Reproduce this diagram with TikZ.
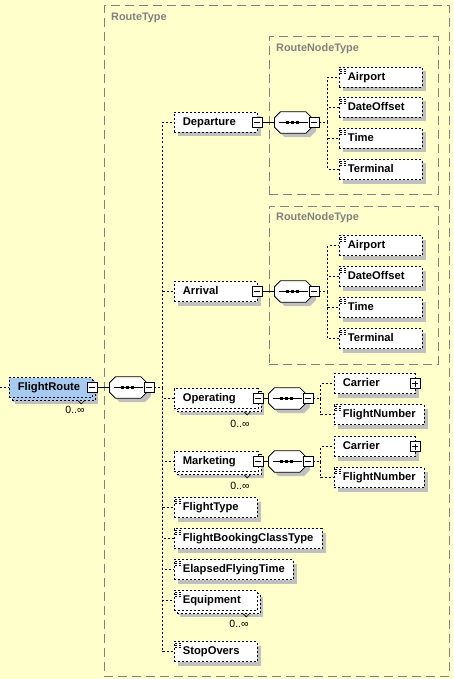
\documentclass[tikz,border=0pt]{standalone}
\usepackage{fontspec}
\setmainfont{Liberation Sans}
\usetikzlibrary{shadows}

\definecolor{bgyellow}{RGB}{255,255,204}
\definecolor{shadegrey}{RGB}{192,192,192}
\definecolor{titlegrey}{RGB}{128,128,128}
\definecolor{rootblue}{RGB}{166,202,240}

% octagon outline round a sequence node, shifted by (#2,#3)
\newcommand{\octpath}[3]{([shift={(6pt+#2,#3)}]#1.north west) -- ([shift={(-6pt+#2,#3)}]#1.north east)
    -- ([shift={(#2,-6pt+#3)}]#1.north east) -- ([shift={(#2,6pt+#3)}]#1.south east)
    -- ([shift={(-6pt+#2,#3)}]#1.south east) -- ([shift={(6pt+#2,#3)}]#1.south west)
    -- ([shift={(#2,6pt+#3)}]#1.south west) -- ([shift={(#2,-6pt+#3)}]#1.north west) -- cycle}
% sequence compositor: shadow, frame, line and three dots
\newcommand{\seqframe}[1]{%
    \fill[shadegrey] \octpath{#1}{4pt}{-4pt};
    \filldraw[fill=white, line width=0.8pt] \octpath{#1}{0pt}{0pt};
    \draw[line width=0.8pt] ([xshift=4pt]#1.west) -- ([xshift=-4pt]#1.east);
    \foreach \d in {-7.5pt,-2.5pt,2.5pt}
        \draw[line width=3pt] ([xshift=\d]#1.center) -- ++(3pt,0pt);}

\begin{document}
\begin{tikzpicture}[x=1pt, y=-1pt, % pixel grid, y pointing down
    elem/.style={draw, fill=white, dash pattern=on 2pt off 2pt, line width=0.8pt,
        anchor=west, minimum height=20pt, inner xsep=9pt, inner ysep=0pt,
        text width=#1, align=left, text height=8pt, text depth=2.5pt,
        font=\fontsize{11.2}{13}\selectfont\bfseries,
        general shadow={fill=shadegrey, shadow xshift=4pt, shadow yshift=-4pt}},
    multi/.style={general shadow={fill=shadegrey, shadow xshift=6pt, shadow yshift=-6pt},
        general shadow={fill=#1, draw=black, dash pattern=on 2pt off 2pt, line width=0.8pt,
            shadow xshift=3pt, shadow yshift=-3pt}},
    multi/.default=white,
    simple/.style={path picture={
        \foreach \k in {1.5pt,3.5pt,5.5pt}
            \draw[line width=0.8pt] ([xshift=1.5pt,yshift=-\k]path picture bounding box.north west) -- ++(6pt,0pt);}},
    seq/.style={minimum width=37pt, minimum height=21pt, inner sep=0pt, anchor=west},
    btn/.style={draw, solid, fill=white, line width=0.8pt, minimum size=10pt, inner sep=0pt},
    collapse/.style={btn, path picture={
        \draw[line width=0.8pt] ([xshift=2pt]path picture bounding box.west) -- ([xshift=-2pt]path picture bounding box.east);}},
    expand/.style={btn, path picture={
        \draw[line width=0.8pt] ([xshift=2pt]path picture bounding box.west) -- ([xshift=-2pt]path picture bounding box.east)
            ([yshift=2pt]path picture bounding box.south) -- ([yshift=-2pt]path picture bounding box.north);}},
    mult/.style={font=\fontsize{10.5}{12}\selectfont, inner sep=0pt},
    notch/.style={line width=0.6pt},
    grpbox/.style={draw=titlegrey, line width=0.9pt, dash pattern=on 9pt off 5pt,
        anchor=north west, inner sep=0pt},
    grptitle/.style={text=titlegrey, font=\fontsize{10.9}{13}\selectfont\bfseries,
        anchor=west, inner sep=0pt},
    link/.style={line width=0.8pt},
    conn/.style={line width=0.8pt, dash pattern=on 2pt off 2pt}]

    % Background and page size
    \fill[bgyellow] (0,0) rectangle (453,679);
    \useasboundingbox (0,0) rectangle (453,679);

    % Type boxes (grey dashed)
    \node[grpbox, minimum width=345pt, minimum height=670pt] (rt) at (103.5,5.5) {};
    \node[grptitle] (rtt) at (111,17.5) {RouteType};
    \node[grpbox, minimum width=169pt, minimum height=157pt] (rnta) at (268.5,36.5) {};
    \node[grptitle] (rntat) at (276,48.5) {RouteNodeType};
    \node[grpbox, minimum width=169pt, minimum height=158pt] (rntb) at (268.5,205.5) {};
    \node[grptitle] (rntbt) at (276,217.5) {RouteNodeType};

    % Root element FlightRoute
    \node[elem=65pt, fill=rootblue, multi=rootblue] (fr) at (8.5,387.5) {FlightRoute};
    \node[collapse] (frb) at (fr.east) {};
    \node[mult] (frm) at (75,410) {0..∞};
    \draw[notch] ([shift={(-14pt,-3pt)}]fr.south east) -- ++(3pt,-3pt) -- ++(3pt,3pt);
    \node[seq] (frseq) at (109.5,387.5) {};
    \seqframe{frseq}
    \node[collapse] (frseqb) at ([xshift=2pt]frseq.east) {};
    \coordinate (frin) at (0,387.5); % incoming line
    \coordinate (frbus) at (162.5,387.5);

    % Departure
    \node[elem=65pt] (dep) at (173.5,122.5) {Departure};
    \node[collapse] (depb) at (dep.east) {};
    \node[seq] (depseq) at (274.5,122.5) {};
    \seqframe{depseq}
    \node[collapse] (depseqb) at ([xshift=2pt]depseq.east) {};
    \coordinate (depbus) at (327.5,122.5);
    \node[elem=65pt, simple] (depap) at (338.5,77.5) {Airport};
    \node[elem=65pt, simple] (depdo) at (338.5,107.5) {DateOffset};
    \node[elem=65pt, simple] (depti) at (338.5,138.5) {Time};
    \node[elem=65pt, simple] (depte) at (338.5,169.5) {Terminal};

    % Arrival
    \node[elem=65pt] (arr) at (173.5,291.5) {Arrival};
    \node[collapse] (arrb) at (arr.east) {};
    \node[seq] (arrseq) at (274.5,291.5) {};
    \seqframe{arrseq}
    \node[collapse] (arrseqb) at ([xshift=2pt]arrseq.east) {};
    \coordinate (arrbus) at (327.5,291.5);
    \node[elem=65pt, simple] (arrap) at (338.5,245.5) {Airport};
    \node[elem=65pt, simple] (arrdo) at (338.5,276.5) {DateOffset};
    \node[elem=65pt, simple] (arrti) at (338.5,307.5) {Time};
    \node[elem=65pt, simple] (arrte) at (338.5,338.5) {Terminal};

    % Operating
    \node[elem=66pt, multi] (op) at (173.5,398.5) {Operating};
    \node[collapse] (opb) at (op.east) {};
    \node[mult] (opm) at (240,424) {0..∞};
    \draw[notch] ([shift={(-14pt,-3pt)}]op.south east) -- ++(3pt,-3pt) -- ++(3pt,3pt);
    \node[seq] (opseq) at (268.5,398.5) {};
    \seqframe{opseq}
    \node[collapse] (opseqb) at ([xshift=2pt]opseq.east) {};
    \coordinate (opbus) at (320.5,398.5);
    \node[elem=63pt] (opca) at (333.5,383.5) {Carrier};
    \node[expand] (opcab) at (opca.east) {};
    \node[elem=72pt, simple] (opfn) at (333.5,414.5) {FlightNumber};

    % Marketing
    \node[elem=66pt, multi] (mk) at (173.5,461.5) {Marketing};
    \node[collapse] (mkb) at (mk.east) {};
    \node[mult] (mkm) at (240,486) {0..∞};
    \draw[notch] ([shift={(-14pt,-3pt)}]mk.south east) -- ++(3pt,-3pt) -- ++(3pt,3pt);
    \node[seq] (mkseq) at (268.5,461.5) {};
    \seqframe{mkseq}
    \node[collapse] (mkseqb) at ([xshift=2pt]mkseq.east) {};
    \coordinate (mkbus) at (320.5,461.5);
    \node[elem=63pt] (mkca) at (333.5,446.5) {Carrier};
    \node[expand] (mkcab) at (mkca.east) {};
    \node[elem=72pt, simple] (mkfn) at (333.5,477.5) {FlightNumber};

    % Simple elements of RouteType
    \node[elem=65pt, simple] (ft) at (173.5,507.5) {FlightType};
    \node[elem=130pt, simple] (fbc) at (173.5,538.5) {FlightBookingClassType};
    \node[elem=101pt, simple] (eft) at (173.5,569.5) {ElapsedFlyingTime};
    \node[elem=65pt, simple, multi] (eq) at (173.5,600.5) {Equipment};
    \node[mult] (eqm) at (239,624) {0..∞};
    \draw[notch] ([shift={(-14pt,-3pt)}]eq.south east) -- ++(3pt,-3pt) -- ++(3pt,3pt);
    \node[elem=65pt, simple] (so) at (173.5,651.5) {StopOvers};

    % Root connectors
    \draw[conn] (frin) -- (fr.west);
    \draw[link] (frb) -- (frseq);
    \draw[conn] (frseqb) -- (frbus);
    \draw[conn] (frbus) |- (dep.west);
    \draw[conn] (frbus) |- (arr.west);
    \draw[conn] (frbus) |- (op.west);
    \draw[conn] (frbus) |- (mk.west);
    \draw[conn] (frbus) |- (ft.west);
    \draw[conn] (frbus) |- (fbc.west);
    \draw[conn] (frbus) |- (eft.west);
    \draw[conn] (frbus) |- (eq.west);
    \draw[conn] (frbus) |- (so.west);

    % Departure connectors
    \draw[link] (depb) -- (depseq);
    \draw[conn] (depseqb) -- (depbus);
    \draw[conn] (depbus) |- (depap.west);
    \draw[conn] (depbus) |- (depdo.west);
    \draw[conn] (depbus) |- (depti.west);
    \draw[conn] (depbus) |- (depte.west);

    % Arrival connectors
    \draw[link] (arrb) -- (arrseq);
    \draw[conn] (arrseqb) -- (arrbus);
    \draw[conn] (arrbus) |- (arrap.west);
    \draw[conn] (arrbus) |- (arrdo.west);
    \draw[conn] (arrbus) |- (arrti.west);
    \draw[conn] (arrbus) |- (arrte.west);

    % Operating connectors
    \draw[link] (opb) -- (opseq);
    \draw[conn] (opseqb) -- (opbus);
    \draw[conn] (opbus) |- (opca.west);
    \draw[conn] (opbus) |- (opfn.west);

    % Marketing connectors
    \draw[link] (mkb) -- (mkseq);
    \draw[conn] (mkseqb) -- (mkbus);
    \draw[conn] (mkbus) |- (mkca.west);
    \draw[conn] (mkbus) |- (mkfn.west);

\end{tikzpicture}
\end{document}
